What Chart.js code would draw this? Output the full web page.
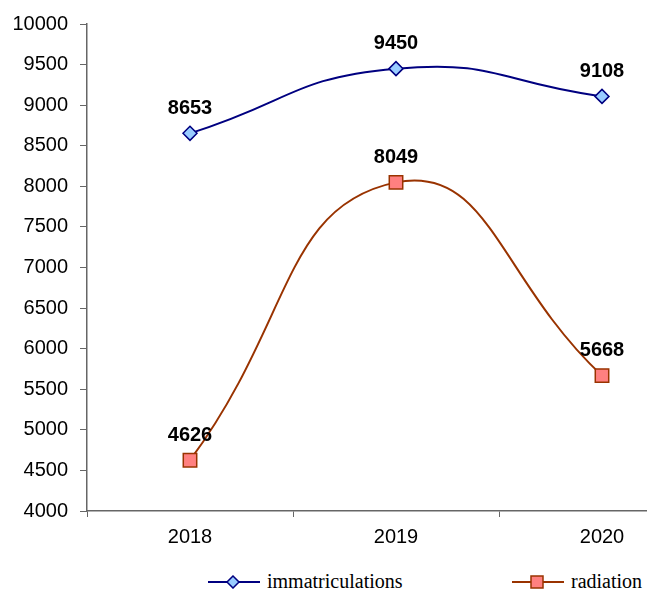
<!DOCTYPE html>
<html>
<head>
<meta charset="utf-8">
<script src="https://cdn.jsdelivr.net/npm/chart.js@4.4.1/dist/chart.umd.min.js"></script>
<style>
  body { margin: 0; background: #fff; overflow: hidden; }
  #wrap { position: relative; width: 647px; height: 591px; overflow: hidden; }
  #box { position: absolute; left: 0; top: 0; width: 716px; height: 551px; }
  .leg { position: absolute; top: 570px; font-family: "Liberation Serif", "Times New Roman", serif; font-size: 20px; color: #000; display: flex; align-items: center; white-space: nowrap; }
  .leg svg { margin-right: 6px; }
</style>
</head>
<body>
<div id="wrap">
  <div id="box"><canvas id="grafico" width="716" height="551"></canvas></div>
  <div class="leg" style="left:207px">
    <svg width="54" height="14"><line x1="1" y1="7" x2="53" y2="7" stroke="#000080" stroke-width="2"/><polygon points="26,1 32,7 26,13 20,7" fill="#99ccff" stroke="#000080" stroke-width="1.5"/></svg>immatriculations
  </div>
  <div class="leg" style="left:511px">
    <svg width="54" height="16"><line x1="1" y1="8" x2="53" y2="8" stroke="#993300" stroke-width="2"/><rect x="20" y="2" width="12" height="12" fill="#ff8080" stroke="#993300" stroke-width="1.5"/></svg>radiation
  </div>
</div>
<script>
// DADOS
const anos = ["2018", "2019", "2020"];
const immatriculations = [8653, 9450, 9108];
const radiation = [4626, 8049, 5668];

// ROTULOS EM CIMA DOS PONTOS
const rotulos = {
  id: "rotulos",
  afterDatasetsDraw(chart) {
    const c = chart.ctx;
    c.save();
    c.font = "bold 20px 'Liberation Sans', Arial, sans-serif";
    c.fillStyle = "#000";
    c.textAlign = "center";
    c.textBaseline = "middle";
    chart.data.datasets.forEach((ds, i) => {
      chart.getDatasetMeta(i).data.forEach((p, j) => {
        c.fillText(ds.data[j], p.x, p.y - 25);
      });
    });
    c.restore();
  },
};

const ctx = document.getElementById("grafico").getContext("2d");
new Chart(ctx, {
  type: "line",
  data: {
    labels: anos,
    datasets: [
      {
        label: "immatriculations",
        data: immatriculations,
        borderColor: "#000080",
        borderWidth: 2,
        backgroundColor: "#99ccff",
        pointStyle: "rectRot",
        pointRadius: 7,
        pointBorderWidth: 1.5,
        pointBorderColor: "#000080",
        tension: 0.5,
        fill: false,
      },
      {
        label: "radiation",
        data: radiation,
        borderColor: "#993300",
        borderWidth: 2,
        backgroundColor: "#ff8080",
        pointStyle: "rect",
        pointRadius: 9.5,
        pointBorderWidth: 1.5,
        pointBorderColor: "#993300",
        tension: 0.5,
        fill: false,
      },
    ],
  },
  options: {
    responsive: false,
    animation: false,
    layout: { padding: { top: 19, left: 0, right: 0, bottom: 0 } },
    plugins: {
      legend: { display: false },
      tooltip: { enabled: false },
    },
    scales: {
      x: {
        offset: true,
        grid: {
          offset: true,
          drawOnChartArea: false,
          tickLength: 6,
          color: "#666",
        },
        border: { color: "#666", width: 1.5 },
        ticks: {
          color: "#000",
          padding: 8,
          font: { family: "'Liberation Sans', Arial, sans-serif", size: 20 },
        },
        afterFit(s) { s.height = 40; },
      },
      y: {
        min: 4000,
        max: 10000,
        grid: {
          drawOnChartArea: false,
          tickLength: 7,
          color: "#666",
        },
        border: { color: "#666", width: 1.5 },
        ticks: {
          stepSize: 500,
          color: "#000",
          padding: 12,
          callback: (v) => String(v),
          font: { family: "'Liberation Sans', Arial, sans-serif", size: 20 },
        },
        afterFit(s) { s.width = 87; },
      },
    },
  },
  plugins: [rotulos],
});
</script>
</body>
</html>
